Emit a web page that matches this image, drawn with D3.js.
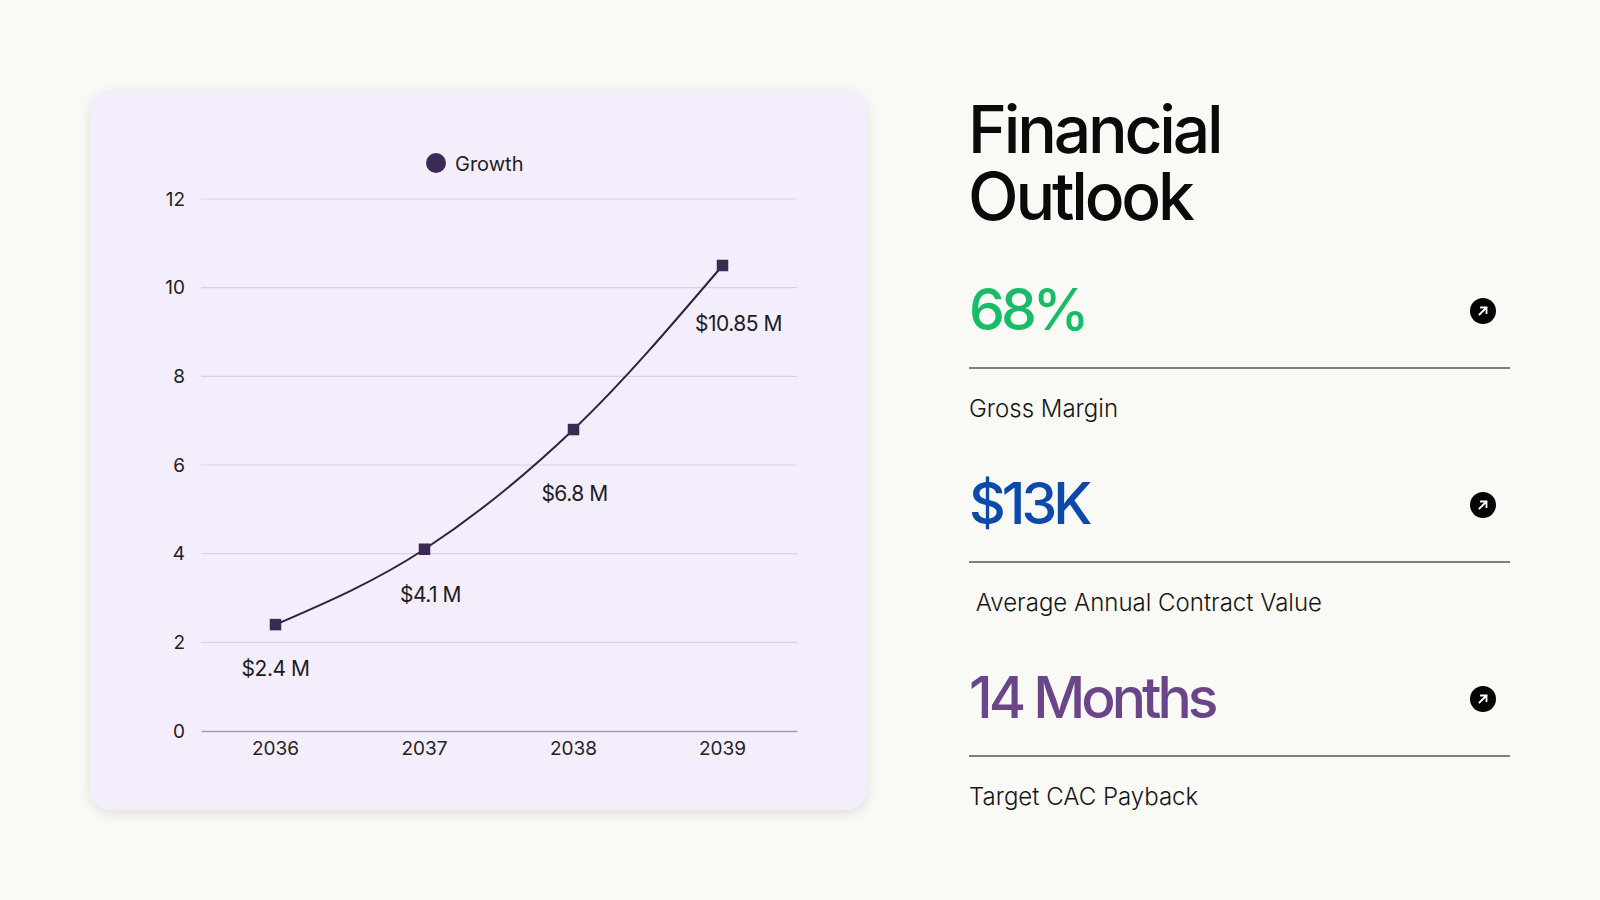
<!DOCTYPE html>
<html>
<head>
<meta charset="utf-8">
<script src="https://cdn.jsdelivr.net/npm/d3@7"></script>
<style>
  html, body { margin: 0; padding: 0; background: #f9f9f5; }
  svg { display: block; font-family: Inter, "Noto Sans", sans-serif; }
</style>
</head>
<body>
<svg id="chart" width="1600" height="900"></svg>
<script>
// ---- data ----
const years = ["2036", "2037", "2038", "2039"];
const growth = [2.4, 4.1, 6.8, 10.5];
const growthLabels = ["$2.4 M", "$4.1 M", "$6.8 M", "$10.85 M"];
const yTicks = [0, 2, 4, 6, 8, 10, 12];
const seriesName = "Growth";
const titleLines = ["Financial", "Outlook"];
const kpiValues = ["68%", "$13K", "14 Months"];
const kpiLabels = ["Gross Margin", " Average Annual Contract Value", "Target CAC Payback"];
const kpiColors = ["#17bb68", "#0b4aa8", "#6b4589"];

// ---- setup ----
const svg = d3.select("#chart");
svg.append("rect").attr("width", 1600).attr("height", 900).attr("fill", "#f9f9f5");

const defs = svg.append("defs");
const f = defs.append("filter").attr("id", "shadow").attr("x", "-10%").attr("y", "-10%").attr("width", "120%").attr("height", "125%");
f.append("feDropShadow").attr("dx", 0).attr("dy", 4).attr("stdDeviation", 6)
  .attr("flood-color", "#000").attr("flood-opacity", 0.10);

// card
svg.append("rect")
  .attr("x", 90).attr("y", 89).attr("width", 777).attr("height", 721)
  .attr("rx", 22).attr("fill", "#f4eefc").attr("filter", "url(#shadow)");

// scales
const x = d3.scaleBand().domain(years).range([201, 797]);
const y = d3.scaleLinear().domain([0, 12]).range([731, 199]);
const cx = d => x(d) + x.bandwidth() / 2;

// grid
const g = svg.append("g");
g.selectAll("line.grid").data(yTicks.filter(t => t !== 0)).join("line")
  .attr("class", "grid")
  .attr("x1", 201).attr("x2", 797)
  .attr("y1", d => y(d)).attr("y2", d => y(d))
  .attr("stroke", "#d8d1e2").attr("stroke-width", 1.2);

// y axis
const yAxis = d3.axisLeft(y).tickValues(yTicks).tickSize(0).tickPadding(0);
const ya = svg.append("g").attr("transform", "translate(185,0)").call(yAxis);
ya.select(".domain").remove();
ya.selectAll("text").attr("font-size", 19).attr("fill", "#222").attr("font-family", "Inter, sans-serif");

// x axis
const xAxis = d3.axisBottom(x).tickSize(0).tickPadding(0);
const xa = svg.append("g").attr("transform", "translate(0,731)").call(xAxis);
xa.select(".domain").attr("stroke", "#a39cae").attr("stroke-width", 1.5);
xa.selectAll("text").attr("font-size", 19).attr("fill", "#222").attr("dy", "1.28em").attr("font-family", "Inter, sans-serif");

// line
const line = d3.line()
  .x((d, i) => cx(years[i]))
  .y(d => y(d))
  .curve(d3.curveMonotoneX);
svg.append("path").datum(growth)
  .attr("d", line).attr("fill", "none")
  .attr("stroke", "#2e2340").attr("stroke-width", 2);

// markers
svg.selectAll("rect.pt").data(growth).join("rect")
  .attr("class", "pt")
  .attr("x", (d, i) => cx(years[i]) - 5.75)
  .attr("y", d => y(d) - 5.75)
  .attr("width", 11.5).attr("height", 11.5)
  .attr("fill", "#3a2a52");

// data labels (placed below each point, nudged away from the line)
const labelNudge = [[0, 51.5], [6, 53], [1, 71], [16, 65.5]];
svg.selectAll("text.dl").data(growth).join("text")
  .attr("class", "dl")
  .attr("x", (d, i) => cx(years[i]) + labelNudge[i][0])
  .attr("y", (d, i) => y(d) + labelNudge[i][1])
  .attr("text-anchor", "middle")
  .attr("font-size", 21).attr("fill", "#1c1c1c")
  .attr("letter-spacing", "-0.5px")
  .text((d, i) => growthLabels[i]);

// legend
svg.append("circle").attr("cx", 436).attr("cy", 163).attr("r", 10).attr("fill", "#3b2a56");
svg.append("text").attr("x", 455).attr("y", 171).attr("font-size", 20).attr("fill", "#222").text(seriesName);

// ---- right panel ----
const title = svg.append("text")
  .attr("x", 968).attr("y", 153)
  .attr("font-size", 66).attr("font-weight", 500).attr("fill", "#0a0a0a")
  .attr("letter-spacing", "-3.2px");
title.selectAll("tspan").data(titleLines).join("tspan")
  .attr("x", 968).attr("dy", (d, i) => i === 0 ? 0 : 67)
  .text(d => d);

const step = 194;
kpiValues.forEach((v, i) => {
  const base = 330 + i * step;
  svg.append("text").attr("x", 969).attr("y", base)
    .attr("font-size", 57).attr("font-weight", 500).attr("fill", kpiColors[i])
    .attr("letter-spacing", "-4px")
    .text(v);
  // arrow icon
  const ic = svg.append("g").attr("transform", `translate(1483,${base - 19})`);
  ic.append("circle").attr("r", 13).attr("fill", "#050505");
  ic.append("path").attr("d", "M-3.5,3.5 L3.5,-3.5 M-2,-3.5 L3.5,-3.5 L3.5,2")
    .attr("fill", "none").attr("stroke", "#fff").attr("stroke-width", 1.8)
    .attr("stroke-linecap", "square");
  // divider
  svg.append("line").attr("x1", 969).attr("x2", 1510)
    .attr("y1", base + 38).attr("y2", base + 38)
    .attr("stroke", "#555").attr("stroke-width", 1.5);
  // label
  svg.append("text").attr("x", 969).attr("y", base + 87)
    .attr("font-size", 24).attr("font-weight", 300).attr("fill", "#151515")
    .attr("xml:space", "preserve").style("white-space", "pre")
    .text(kpiLabels[i]);
});
</script>
</body>
</html>
